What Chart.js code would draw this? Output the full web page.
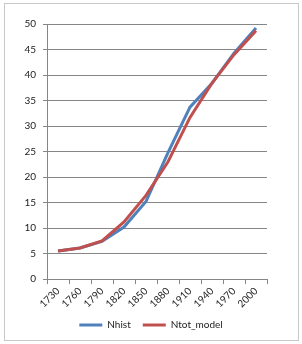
<!DOCTYPE html>
<html>
<head>
<meta charset="utf-8">
<script src="https://cdn.jsdelivr.net/npm/chart.js@4/dist/chart.umd.min.js"></script>
<style>
  body { margin: 0; background: #fff; }
  #wrap { position: relative; width: 302px; height: 344px; }
  #frame { position: absolute; left: 4px; top: 3px; width: 293px; height: 336px; border: 1px solid #c8c8c8; }
  #grafico { position: absolute; left: 0; top: 0; }
</style>
</head>
<body>
<div id="wrap">
  <div id="frame"></div>
  <canvas id="grafico" width="302" height="344"></canvas>
</div>
<script>
// valores
const anos = ['1730', '1760', '1790', '1820', '1850', '1880', '1910', '1940', '1970', '2000'];
const nhist = [5.5, 6.1, 7.4, 10.2, 15.2, 24.8, 33.7, 38.4, 44.3, 49.2];
const ntotModel = [5.5, 6.1, 7.5, 11.2, 16.4, 23.0, 31.7, 38.4, 44.0, 48.7];

const corAzul = '#4F81BD';
const corVermelha = '#C0504D';
const corGrade = '#868686';

const ctx = document.getElementById('grafico').getContext('2d');

new Chart(ctx, {
    type: 'line',
    data: {
        labels: anos,
        datasets: [{
            label: 'Nhist',
            data: nhist,
            borderColor: corAzul,
            backgroundColor: corAzul,
            borderWidth: 3,
            pointRadius: 0,
            tension: 0,
            order: 1
        }, {
            label: 'Ntot_model',
            data: ntotModel,
            borderColor: corVermelha,
            backgroundColor: corVermelha,
            borderWidth: 3,
            pointRadius: 0,
            tension: 0,
            order: 0
        }]
    },
    options: {
        responsive: false,
        animation: false,
        layout: {
            padding: { left: 0, right: 0, top: 24, bottom: 4 }
        },
        scales: {
            x: {
                offset: true,
                afterFit: function(scale) { scale.height -= 3; },
                grid: {
                    offset: true,
                    drawOnChartArea: false,
                    drawTicks: true,
                    tickLength: 5,
                    color: corGrade
                },
                border: { color: corGrade },
                ticks: {
                    minRotation: 45,
                    maxRotation: 45,
                    autoSkip: false,
                    padding: 1,
                    color: '#222',
                    font: { family: 'Lato', size: 10 }
                }
            },
            y: {
                min: 0,
                max: 50,
                afterFit: function(scale) { scale.width = 47; },
                grid: {
                    color: corGrade,
                    tickLength: 4
                },
                border: { color: corGrade },
                ticks: {
                    stepSize: 5,
                    padding: 7,
                    color: '#222',
                    font: { family: 'Lato', size: 10 }
                }
            },
            // eixo vazio à direita só para reservar a margem
            margemDireita: {
                position: 'right',
                afterFit: function(scale) { scale.width = 35; },
                grid: { display: false },
                border: { display: false },
                ticks: { display: false }
            }
        },
        plugins: {
            legend: {
                position: 'bottom',
                labels: {
                    usePointStyle: true,
                    pointStyle: 'line',
                    pointStyleWidth: 23,
                    padding: 12,
                    color: '#222',
                    font: { family: 'Lato', size: 10 },
                    sort: (a, b) => a.datasetIndex - b.datasetIndex
                }
            },
            tooltip: { enabled: false }
        }
    }
});
</script>
</body>
</html>
